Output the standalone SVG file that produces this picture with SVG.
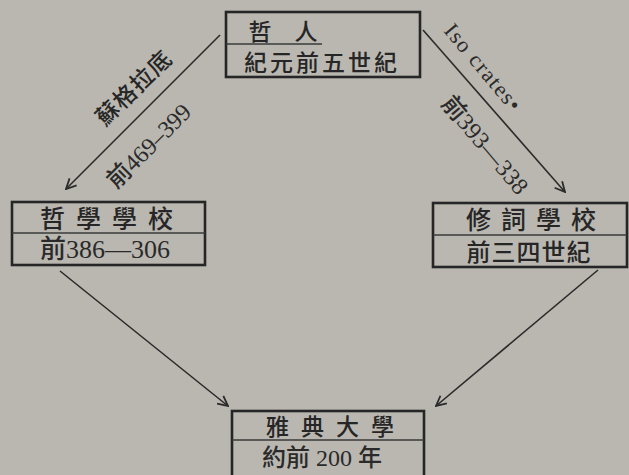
<svg xmlns="http://www.w3.org/2000/svg" width="629" height="475" viewBox="0 0 629 475">
<defs>
<marker id="arr" viewBox="0 0 12 12" refX="11" refY="6" markerWidth="12" markerHeight="12" markerUnits="userSpaceOnUse" orient="auto">
<path d="M1,1 L11,6 L1,11" fill="none" stroke="#2b2b2b" stroke-width="1.8"/>
</marker>
</defs>
<style>
.box{fill:none;stroke:#262626;stroke-width:2.6}
.div{stroke:#3a3a3a;stroke-width:1.3}
.t{font-family:"Noto Sans CJK TC","Liberation Serif",serif;fill:#262626;text-anchor:middle;font-weight:500}
.n{font-family:"Liberation Serif","Noto Sans CJK TC",serif;fill:#2a2a2a;font-weight:500}
.c{stroke:#2b2b2b;stroke-width:1.6;fill:none;marker-end:url(#arr)}
</style>
<rect width="629" height="475" fill="#b9b7b0"/>
<g id="connectors">
<line class="c" x1="220" y1="35" x2="66" y2="189"/>
<line class="c" x1="423" y1="30" x2="565" y2="192"/>
<line class="c" x1="60" y1="271" x2="228" y2="406"/>
<line class="c" x1="598" y1="270" x2="436" y2="406"/>
<text class="t" font-size="23" letter-spacing="1" transform="translate(134,88) rotate(-44)" dy="8">蘇格拉底</text>
<text class="n" font-size="24" text-anchor="middle" transform="translate(149,146) rotate(-45)" dy="8">前469–399</text>
<text class="n" font-size="22" text-anchor="middle" letter-spacing="1.5" transform="translate(483,68) rotate(50)" dy="7">Iso  crates•</text>
<text class="n" font-size="24" text-anchor="middle" transform="translate(485,145) rotate(50)" dy="8">前393—338</text>
</g>
<g id="node-top">
<rect class="box" x="226" y="12" width="194" height="65"/>
<line class="div" x1="226" y1="44" x2="322" y2="44"/>
<text class="t" font-size="23" x="283" y="40">哲　人</text>
<text class="t" font-size="23" x="322" y="71" letter-spacing="3">紀元前五世紀</text>
</g>
<g id="node-left">
<rect class="box" x="12" y="202" width="193" height="63"/>
<line class="div" x1="12" y1="233" x2="205" y2="233"/>
<text class="t" font-size="25" x="112" y="228" letter-spacing="11">哲學學校</text>
<text class="n" font-size="26" x="40" y="258">前386—306</text>
</g>
<g id="node-right">
<rect class="box" x="433" y="203" width="194" height="64"/>
<line class="div" x1="433" y1="235" x2="627" y2="235"/>
<text class="t" font-size="25" x="536" y="229" letter-spacing="10">修詞學校</text>
<text class="t" font-size="24" x="529" y="261" letter-spacing="1">前三四世紀</text>
</g>
<g id="node-bottom">
<rect class="box" x="232" y="411" width="192" height="70"/>
<line class="div" x1="232" y1="440" x2="424" y2="440"/>
<text class="t" font-size="23" x="336" y="435" letter-spacing="12">雅典大學</text>
<text class="n" font-size="24" x="262" y="466">約前 200 年</text>
</g>
</svg>
